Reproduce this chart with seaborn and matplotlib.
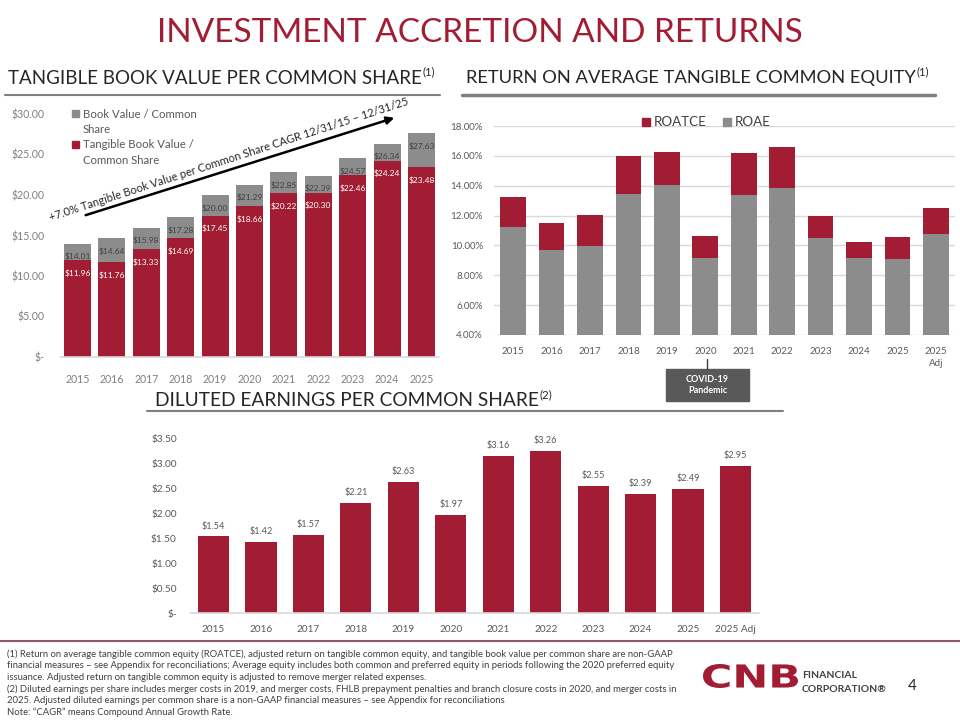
import matplotlib
matplotlib.use("Agg")
import matplotlib.pyplot as plt
import seaborn as sns
from matplotlib.transforms import Affine2D
from matplotlib.patches import Rectangle, FancyArrowPatch, PathPatch
from matplotlib.lines import Line2D
from matplotlib.textpath import TextPath
from matplotlib.font_manager import FontProperties

# ---------------- data ----------------
tbv_years = ["2015", "2016", "2017", "2018", "2019", "2020", "2021", "2022", "2023", "2024", "2025"]
book_value = [14.01, 14.64, 15.98, 17.28, 20.00, 21.29, 22.85, 22.39, 24.57, 26.34, 27.63]
tangible_book_value = [11.96, 11.76, 13.33, 14.69, 17.45, 18.66, 20.22, 20.30, 22.46, 24.24, 23.48]
tbv_ticks = [0, 5, 10, 15, 20, 25, 30]
tbv_tick_labels = ["$-", "$5.00", "$10.00", "$15.00", "$20.00", "$25.00", "$30.00"]

roe_years = ["2015", "2016", "2017", "2018", "2019", "2020", "2021", "2022", "2023", "2024", "2025", "2025 Adj"]
roatce = [13.22, 11.52, 12.01, 15.99, 16.25, 10.63, 16.21, 16.61, 11.95, 10.23, 10.56, 12.53]
roae = [11.21, 9.67, 9.94, 13.46, 14.04, 9.13, 13.37, 13.87, 10.52, 9.18, 9.11, 10.74]
roe_ticks = [4, 6, 8, 10, 12, 14, 16, 18]
roe_tick_labels = ["4.00%", "6.00%", "8.00%", "10.00%", "12.00%", "14.00%", "16.00%", "18.00%"]

eps_years = ["2015", "2016", "2017", "2018", "2019", "2020", "2021", "2022", "2023", "2024", "2025", "2025 Adj"]
diluted_eps = [1.54, 1.42, 1.57, 2.21, 2.63, 1.97, 3.16, 3.26, 2.55, 2.39, 2.49, 2.95]
eps_ticks = [0, 0.5, 1.0, 1.5, 2.0, 2.5, 3.0, 3.5]
eps_tick_labels = ["$-", "$0.50", "$1.00", "$1.50", "$2.00", "$2.50", "$3.00", "$3.50"]

footnotes = [
    "(1) Return on average tangible common equity (ROATCE), adjusted return on tangible common equity, and tangible book value per common share are non-GAAP",
    "financial measures \u2013 see Appendix for reconciliations; Average equity includes both common and preferred equity in periods following the 2020 preferred equity",
    "issuance. Adjusted return on tangible common equity is adjusted to remove merger related expenses.",
    "(2) Diluted earnings per share includes merger costs in 2019, and merger costs, FHLB prepayment penalties and branch closure costs in 2020, and merger costs in",
    "2025. Adjusted diluted earnings per common share is a non-GAAP financial measures \u2013 see Appendix for reconciliations",
    "Note: \u201cCAGR\u201d means Compound Annual Growth Rate.",
]

RED = "#A21D33"
GRAY = "#8C8C8C"
DARK = "#404040"
MID = "#7F7F7F"
LBL = "#595959"

sns.set_style("white")
plt.rcParams["font.family"] = ["Lato", "DejaVu Sans"]

fig = plt.figure(figsize=(9.6, 7.2), dpi=100)
PX = Affine2D().scale(1 / 960, -1 / 720).translate(0, 1) + fig.transFigure


def axes_px(left, top, right, bottom):
    return fig.add_axes([left / 960, 1 - bottom / 720, (right - left) / 960, (bottom - top) / 720])


def clean(ax):
    for s in ax.spines.values():
        s.set_visible(False)
    ax.set_xlabel("")
    ax.set_ylabel("")


# ---------------- Title & headers ----------------
fig.text(480, 33, "INVESTMENT ACCRETION AND RETURNS", transform=PX, ha="center", va="center",
         fontsize=24, color=RED)

renderer = fig.canvas.get_renderer()


def header(x, y, txt, sup, size=13.5):
    t = fig.text(x, y, txt, transform=PX, ha="left", va="center", fontsize=size, color="#262626")
    bb = t.get_window_extent(renderer)
    fig.text(bb.x1 + 1, 720 - (y - 6), sup, ha="left", va="center", fontsize=size * 0.6,
             color="#262626", transform=None)


header(8, 78, "TANGIBLE BOOK VALUE PER COMMON SHARE", "(1)", 13.5)
header(466, 78, "RETURN ON AVERAGE TANGIBLE COMMON EQUITY", "(1)", 13.2)
header(155, 401, "DILUTED EARNINGS PER COMMON SHARE", "(2)", 13.8)

fig.add_artist(Line2D([5, 440], [95, 95], transform=PX, color=MID, lw=1.5))
fig.add_artist(Line2D([462, 935], [95, 95], transform=PX, color=MID, lw=2.5))
fig.add_artist(Line2D([147, 783], [411, 411], transform=PX, color=MID, lw=1.5))

# ---------------- Left chart: TBV ----------------
ax1 = axes_px(60.3, 114, 438.7, 357)
sns.barplot(x=tbv_years, y=book_value, color=GRAY, saturation=1, width=0.78, errorbar=None,
            linewidth=0, ax=ax1)
sns.barplot(x=tbv_years, y=tangible_book_value, color=RED, saturation=1, width=0.78, errorbar=None,
            linewidth=0, ax=ax1)
clean(ax1)
ax1.set_xlim(-0.5, 10.5)
ax1.set_ylim(0, 30)
ax1.set_yticks(tbv_ticks, tbv_tick_labels)
ax1.tick_params(axis="y", length=0, pad=11.5, labelsize=7.6, labelcolor=MID)
ax1.tick_params(axis="x", length=0, pad=12, labelsize=7.6, labelcolor=MID)
ax1.axhline(0, color="#D9D9D9", lw=1.2, clip_on=False)
for i, (bv, tb) in enumerate(zip(book_value, tangible_book_value)):
    ax1.annotate(f"${bv:.2f}", (i, bv), xytext=(0, -9.4), textcoords="offset points",
                 ha="center", va="center", fontsize=6, color=DARK)
    ax1.annotate(f"${tb:.2f}", (i, tb), xytext=(0, -9.4), textcoords="offset points",
                 ha="center", va="center", fontsize=6, color="white")

# legend (left)
fig.add_artist(Rectangle((72, 110), 7, 7, transform=PX, color=GRAY))
fig.text(83, 114, "Book Value / Common", transform=PX, va="center", fontsize=8.2, color=LBL)
fig.text(83, 129.5, "Share", transform=PX, va="center", fontsize=8.2, color=LBL)
fig.add_artist(Rectangle((72, 141), 7, 7, transform=PX, color=RED))
fig.text(83, 145, "Tangible Book Value /", transform=PX, va="center", fontsize=8.2, color=LBL)
fig.text(83, 160.5, "Common Share", transform=PX, va="center", fontsize=8.2, color=LBL)

# CAGR arrow and text
fig.add_artist(FancyArrowPatch((83, 216), (397, 117), transform=PX, arrowstyle="-|>",
                               mutation_scale=11, lw=1.8, color="black"))
fig.text(229, 159, "+7.0% Tangible Book Value per Common Share CAGR 12/31/15 \u2013 12/31/25",
         transform=PX, rotation=18, rotation_mode="anchor", ha="center", va="center",
         fontsize=8, color="#262626")

# ---------------- Right chart: ROATCE ----------------
ax2 = axes_px(494, 126, 955, 335)
sns.barplot(x=roe_years, y=roatce, color=RED, saturation=1, width=0.67, errorbar=None,
            linewidth=0, ax=ax2)
sns.barplot(x=roe_years, y=roae, color=GRAY, saturation=1, width=0.67, errorbar=None,
            linewidth=0, ax=ax2)
clean(ax2)
ax2.set_xlim(-0.5, 11.5)
ax2.set_ylim(4, 18)
ax2.set_yticks(roe_ticks, roe_tick_labels)
ax2.set_xticks(range(len(roe_years)), [y.replace(" ", "\n") for y in roe_years])
ax2.grid(axis="y", color="#D9D9D9", lw=1)
ax2.set_axisbelow(True)
ax2.tick_params(axis="y", length=0, pad=8, labelsize=7, labelcolor=LBL)
ax2.tick_params(axis="x", length=0, pad=8.5, labelsize=7, labelcolor=LBL)
for lab in ax2.get_xticklabels():
    lab.set_linespacing(1.5)

fig.add_artist(Rectangle((642, 118), 8, 8, transform=PX, color=RED))
fig.text(654, 122, "ROATCE", transform=PX, va="center", fontsize=9.6, color=DARK)
fig.add_artist(Rectangle((723, 118), 8, 8, transform=PX, color=GRAY))
fig.text(735, 122, "ROAE", transform=PX, va="center", fontsize=9.6, color=DARK)

# COVID box
fig.add_artist(Line2D([707, 707], [359, 369], transform=PX, color="#404040", lw=1))
fig.add_artist(Rectangle((666, 369), 83, 32, transform=PX, color="#595959"))
fig.text(707.5, 385, "COVID-19\nPandemic", transform=PX, ha="center", va="center", fontsize=6.5,
         color="white", fontweight="bold", linespacing=1.3)

# ---------------- Bottom chart: EPS ----------------
ax3 = axes_px(189.8, 439, 759.2, 613)
sns.barplot(x=eps_years, y=diluted_eps, color=RED, saturation=1, width=0.655, errorbar=None,
            linewidth=0, ax=ax3)
clean(ax3)
ax3.set_xlim(-0.5, 11.5)
ax3.set_ylim(0, 3.5)
ax3.set_yticks(eps_ticks, eps_tick_labels)
ax3.tick_params(axis="y", length=0, pad=9.4, labelsize=7.3, labelcolor=LBL)
ax3.tick_params(axis="x", length=0, pad=8.6, labelsize=7.2, labelcolor=LBL)
ax3.axhline(0, color="#D9D9D9", lw=1.2, clip_on=False)
for i, v in enumerate(diluted_eps):
    ax3.annotate(f"${v:.2f}", (i, v), xytext=(0, 7.5), textcoords="offset points",
                 ha="center", va="center", fontsize=6.6, color=LBL)

# ---------------- Footnotes ----------------
fig.add_artist(Line2D([0, 960], [641, 641], transform=PX, color="#8B5A65", lw=1.5))
for k, line in enumerate(footnotes):
    fig.text(7, 654 + k * 11.6, line, transform=PX, va="center", fontsize=6.8, color=DARK)

# ---------------- Logo ----------------
fp = FontProperties(family="DejaVu Sans", weight="bold")
tp = TextPath((0, 0), "CNB", size=1, prop=fp)
ext = tp.get_extents()
logo_tr = (Affine2D().translate(-ext.x0, -ext.y0)
           .scale(95 / ext.width, -24 / ext.height).translate(703, 688) + PX)
fig.add_artist(PathPatch(tp, transform=logo_tr, color=RED, lw=0))
fig.text(802, 676, "FINANCIAL", transform=PX, va="center", fontsize=7.5, color=DARK, fontweight="bold")
fig.text(802, 689, "CORPORATION\u00ae", transform=PX, va="center", fontsize=7.5, color=DARK,
         fontweight="bold")
fig.text(912, 686, "4", transform=PX, va="center", ha="center", fontsize=11, color="#262626")

fig.savefig("out.png", dpi=100)
